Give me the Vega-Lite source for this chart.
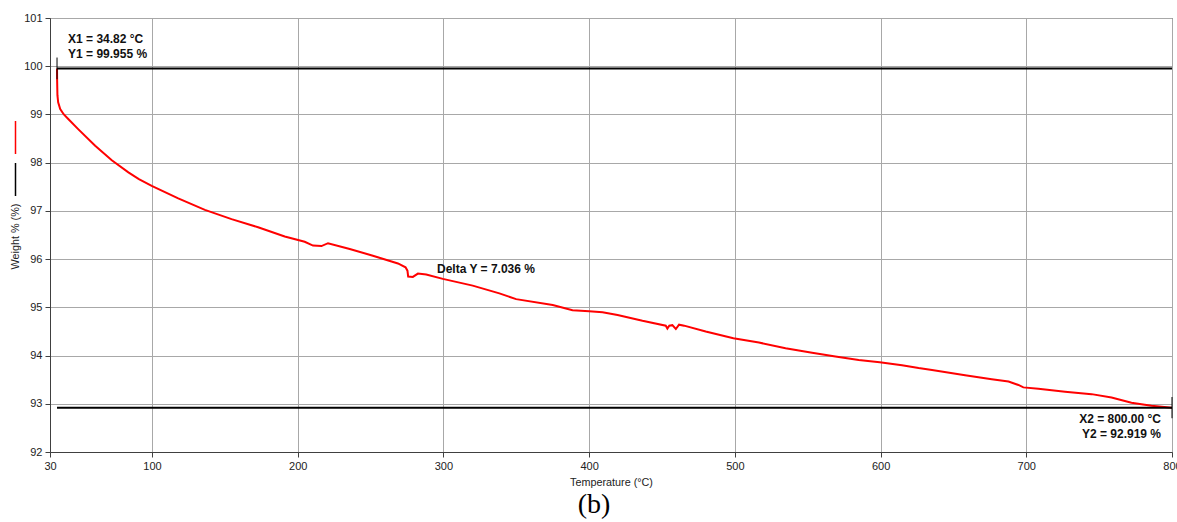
{
  "$schema": "https://vega.github.io/schema/vega-lite/v6.json",
  "width": 1122,
  "height": 434,
  "autosize": "none",
  "padding": {"left": 50, "top": 18, "right": 5, "bottom": 70},
  "background": "white",
  "config": {
    "view": {"stroke": "#404040", "strokeWidth": 1},
    "font": "Liberation Sans",
    "axis": {
      "labelFont": "Liberation Sans", "labelFontSize": 11, "labelColor": "#222", "labelFlush": false,
      "titleFont": "Liberation Sans", "titleFontSize": 10.8, "titleFontWeight": "normal", "titleColor": "#222",
      "gridColor": "#a8a8a8", "gridWidth": 1, "domainColor": "#404040", "tickColor": "#404040",
      "tickSize": 5, "labelPadding": 3
    }
  },
  "title": {"text": "(b)", "orient": "bottom", "anchor": "middle", "font": "Liberation Serif", "fontSize": 28, "fontWeight": "normal", "color": "#000", "offset": 4, "dx": -17},
  "datasets": {
    "curve": [
      {"T": 34.82, "W": 99.955}, {"T": 34.9, "W": 99.7}, {"T": 35.1, "W": 99.4}, {"T": 35.6, "W": 99.25},
      {"T": 37.0, "W": 99.11}, {"T": 39.5, "W": 99.0}, {"T": 42.7, "W": 98.9}, {"T": 49.5, "W": 98.69},
      {"T": 61, "W": 98.35}, {"T": 72.4, "W": 98.05}, {"T": 83.8, "W": 97.8}, {"T": 91, "W": 97.66}, {"T": 99.8, "W": 97.52},
      {"T": 118, "W": 97.26}, {"T": 136.3, "W": 97.02}, {"T": 154.6, "W": 96.83}, {"T": 172.8, "W": 96.66},
      {"T": 191.1, "W": 96.47}, {"T": 204.8, "W": 96.36}, {"T": 210.5, "W": 96.28}, {"T": 216.3, "W": 96.27},
      {"T": 220.8, "W": 96.33}, {"T": 235.7, "W": 96.21}, {"T": 251.6, "W": 96.07}, {"T": 268.8, "W": 95.91},
      {"T": 274.0, "W": 95.83}, {"T": 275.3, "W": 95.76}, {"T": 275.8, "W": 95.64}, {"T": 279, "W": 95.63},
      {"T": 282.5, "W": 95.7}, {"T": 288.2, "W": 95.68}, {"T": 299.6, "W": 95.59}, {"T": 320.1, "W": 95.45},
      {"T": 338.4, "W": 95.29}, {"T": 349.9, "W": 95.17}, {"T": 375, "W": 95.05}, {"T": 388.6, "W": 94.94},
      {"T": 400, "W": 94.92}, {"T": 409.2, "W": 94.9}, {"T": 419.5, "W": 94.84}, {"T": 436.6, "W": 94.72},
      {"T": 452.6, "W": 94.62}, {"T": 453.7, "W": 94.56}, {"T": 455, "W": 94.62}, {"T": 457.1, "W": 94.63},
      {"T": 459.5, "W": 94.55}, {"T": 461.7, "W": 94.64}, {"T": 465.2, "W": 94.62}, {"T": 480, "W": 94.5},
      {"T": 499, "W": 94.36}, {"T": 516.5, "W": 94.27}, {"T": 534.8, "W": 94.15}, {"T": 553, "W": 94.06},
      {"T": 569, "W": 93.98}, {"T": 585, "W": 93.91}, {"T": 599.4, "W": 93.86}, {"T": 614.7, "W": 93.8},
      {"T": 626.1, "W": 93.74}, {"T": 635.3, "W": 93.7}, {"T": 658, "W": 93.59}, {"T": 676.3, "W": 93.51},
      {"T": 687.8, "W": 93.46}, {"T": 694.6, "W": 93.39}, {"T": 698, "W": 93.34}, {"T": 708.3, "W": 93.31},
      {"T": 726.6, "W": 93.25}, {"T": 744.8, "W": 93.2}, {"T": 758.5, "W": 93.13}, {"T": 772.2, "W": 93.02},
      {"T": 785.9, "W": 92.96}, {"T": 800, "W": 92.92}
    ],
    "cursors": [
      {"T": 34.82, "T2": 800, "W": 99.955},
      {"T": 34.82, "T2": 800, "W": 92.919}
    ],
    "markers": [
      {"T": 34.82, "Wa": 100.18, "Wb": 99.73},
      {"T": 800, "Wa": 93.14, "Wb": 92.7}
    ]
  },
  "encoding": {
    "x": {"field": "T", "type": "quantitative",
      "scale": {"domain": [30, 800], "nice": false, "zero": false},
      "axis": {"values": [30, 100, 200, 300, 400, 500, 600, 700, 800], "title": "Temperature (°C)", "titleY": 30, "titleBaseline": "middle"}},
    "y": {"field": "W", "type": "quantitative",
      "scale": {"domain": [92, 101], "nice": false, "zero": false},
      "axis": {"values": [92, 93, 94, 95, 96, 97, 98, 99, 100, 101], "title": "Weight % (%)", "titleX": -35, "titleY": 218, "titleAngle": -90, "titleAlign": "center", "titleBaseline": "middle"}}
  },
  "layer": [
    {
      "data": {"name": "curve"},
      "mark": {"type": "line", "strokeWidth": 2, "interpolate": "linear"},
      "encoding": {
        "color": {"datum": "Weight %", "type": "nominal",
          "scale": {"domain": ["Weight %", "Reference"], "range": ["#ff0000", "#000000"]},
          "legend": {"orient": "none", "legendX": -52, "legendY": 102, "title": null, "labelExpr": "''", "padding": 0,
            "symbolType": "M0,-1L0,1", "symbolSize": 1089, "symbolStrokeWidth": 1.5, "rowPadding": 3, "direction": "vertical"}}
      }
    },
    {
      "data": {"name": "cursors"},
      "mark": {"type": "rule", "strokeWidth": 2},
      "encoding": {
        "x2": {"field": "T2"},
        "color": {"datum": "Reference", "type": "nominal"}
      }
    },
    {
      "data": {"name": "markers"},
      "mark": {"type": "rule", "strokeWidth": 1, "color": "#000"},
      "encoding": {
        "y": {"field": "Wa", "type": "quantitative"},
        "y2": {"field": "Wb"}
      }
    },
    {
      "data": {"values": [{"T": 34.82, "W": 99.955, "label": ["X1 = 34.82 °C", "Y1 = 99.955 %"]}]},
      "mark": {"type": "text", "align": "left", "baseline": "alphabetic", "dx": 11, "dy": -25, "fontSize": 12, "fontWeight": "bold", "lineHeight": 15, "color": "#111"},
      "encoding": {"text": {"field": "label"}}
    },
    {
      "data": {"values": [{"T": 800, "W": 92.919, "label": ["X2 = 800.00 °C", "Y2 = 92.919 %"]}]},
      "mark": {"type": "text", "align": "right", "baseline": "alphabetic", "dx": -11, "dy": 15, "fontSize": 12, "fontWeight": "bold", "lineHeight": 15, "color": "#111"},
      "encoding": {"text": {"field": "label"}}
    },
    {
      "data": {"values": [{"T": 295.6, "W": 95.72, "label": "Delta Y = 7.036 %"}]},
      "mark": {"type": "text", "align": "left", "baseline": "alphabetic", "fontSize": 12, "fontWeight": "bold", "color": "#111"},
      "encoding": {"text": {"field": "label"}}
    }
  ]
}
